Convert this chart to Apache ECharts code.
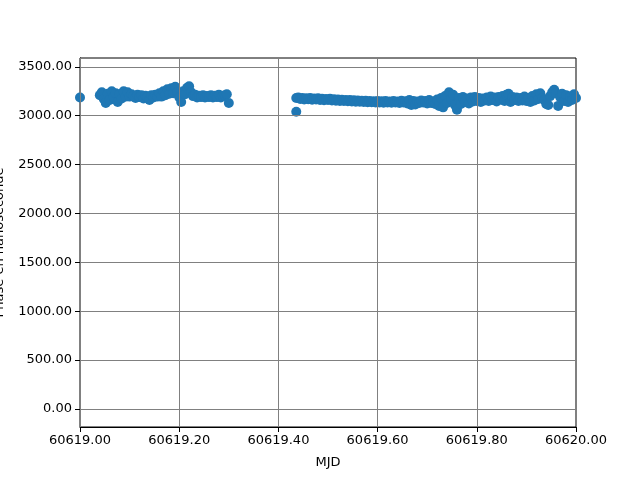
<!DOCTYPE html>
<html>
<head>
<meta charset="utf-8">
<script src="https://cdn.jsdelivr.net/npm/echarts@6/dist/echarts.min.js"></script>
<style>html,body{margin:0;padding:0;background:#fff}#c{width:640px;height:480px}</style>
</head>
<body>
<div id="c"></div>
<script>
// MJD values (day) and phase values (ns)
var mjd = [
60619.000,
60619.040,60619.044,60619.048,60619.052,60619.056,60619.060,60619.064,60619.068,60619.072,60619.076,
60619.080,60619.084,60619.088,60619.092,60619.096,60619.100,60619.104,60619.108,60619.112,60619.116,
60619.120,60619.124,60619.128,60619.132,60619.136,60619.140,60619.144,60619.148,60619.152,60619.156,
60619.160,60619.164,60619.168,60619.172,60619.176,60619.180,60619.184,60619.188,60619.192,60619.196,
60619.200,60619.204,60619.208,60619.212,60619.216,60619.220,60619.224,60619.228,60619.232,60619.236,
60619.240,60619.244,60619.248,60619.252,60619.256,60619.260,60619.264,60619.268,60619.272,60619.276,
60619.280,60619.284,60619.288,60619.292,60619.296,60619.300,
60619.436,60619.436,60619.440,60619.444,60619.448,60619.452,60619.456,60619.460,60619.464,60619.468,60619.472,60619.476,
60619.480,60619.484,60619.488,60619.492,60619.496,60619.500,60619.504,60619.508,60619.512,60619.516,
60619.520,60619.524,60619.528,60619.532,60619.536,60619.540,60619.544,60619.548,60619.552,60619.556,
60619.560,60619.564,60619.568,60619.572,60619.576,60619.580,60619.584,60619.588,60619.592,60619.596,
60619.600,60619.604,60619.608,60619.612,60619.616,60619.620,60619.624,60619.628,60619.632,60619.636,
60619.640,60619.644,60619.648,60619.652,60619.656,60619.660,60619.664,60619.668,60619.672,60619.676,
60619.680,60619.684,60619.688,60619.692,60619.696,60619.700,60619.704,60619.708,60619.712,60619.716,
60619.720,60619.724,60619.728,60619.732,60619.736,60619.740,60619.744,60619.748,60619.752,60619.756,
60619.760,60619.764,60619.768,60619.772,60619.776,60619.780,60619.784,60619.788,60619.792,60619.796,
60619.800,60619.804,60619.808,60619.812,60619.816,60619.820,60619.824,60619.828,60619.832,60619.836,
60619.840,60619.844,60619.848,60619.852,60619.856,60619.860,60619.864,60619.868,60619.872,60619.876,
60619.880,60619.884,60619.888,60619.892,60619.896,60619.900,60619.904,60619.908,60619.912,60619.916,
60619.920,60619.924,60619.928,60619.932,60619.936,60619.940,60619.944,60619.948,60619.952,60619.956,
60619.960,60619.964,60619.968,60619.972,60619.976,60619.980,60619.984,60619.988,60619.992,60619.996,
60620.000
];
var phase = [
3185,
3210,3240,3170,3130,3225,3160,3250,3190,3230,3140,
3220,3175,3250,3195,3240,3195,3220,3200,3180,3215,
3190,3210,3175,3205,3190,3160,3210,3185,3215,3195,
3230,3195,3250,3210,3270,3225,3280,3230,3295,3240,
3190,3140,3250,3220,3285,3300,3240,3200,3215,3185,
3205,3190,3210,3185,3200,3190,3210,3185,3205,3190,
3215,3185,3200,3210,3220,3130,
3180,3040,3185,3170,3180,3165,3178,3168,3180,3162,3175,3165,
3178,3160,3172,3158,3170,3160,3172,3155,3168,3152,
3165,3150,3163,3150,3160,3148,3160,3145,3158,3143,
3155,3142,3153,3140,3152,3138,3150,3137,3148,3135,
3150,3135,3148,3133,3150,3135,3146,3132,3150,3135,
3145,3130,3152,3136,3148,3125,3160,3110,3150,3115,
3145,3130,3155,3135,3150,3125,3160,3130,3145,3120,
3165,3100,3180,3085,3200,3130,3240,3170,3215,3110,
3060,3180,3120,3190,3140,3175,3125,3185,3145,3190,
3150,3180,3140,3175,3155,3185,3150,3195,3160,3185,
3145,3190,3165,3200,3150,3215,3225,3140,3190,3160,
3185,3150,3180,3155,3195,3150,3180,3140,3200,3155,
3220,3170,3230,3180,3160,3120,3110,3200,3240,3265,
3230,3100,3190,3225,3150,3210,3140,3195,3160,3220,
3180
];
var xTicks = [60619.0, 60619.2, 60619.4, 60619.6, 60619.8, 60620.0];
var yTicks = [0, 500, 1000, 1500, 2000, 2500, 3000, 3500];

var points = [];
for (var i = 0; i < mjd.length; i++) points.push([mjd[i], phase[i]]);

var font = 'DejaVu Sans';
var chart = echarts.init(document.getElementById('c'), null, {renderer: 'canvas'});
chart.setOption({
  animation: false,
  backgroundColor: '#fff',
  grid: {left: 80, right: 64, top: 58, bottom: 53, containLabel: false, outerBoundsMode: 'none',
    show: true, borderColor: '#000', borderWidth: 1, backgroundColor: 'transparent'},
  xAxis: {
    type: 'value', min: 60619, max: 60620,
    name: 'MJD', nameLocation: 'middle', nameGap: 29,
    nameTextStyle: {fontFamily: font, fontSize: 13, color: '#000'},
    axisLine: {show: true, onZero: false, lineStyle: {color: '#000', width: 1}},
    axisTick: {show: true, inside: false, length: 5, customValues: xTicks, lineStyle: {color: '#000'}},
    axisLabel: {customValues: xTicks, fontFamily: font, fontSize: 13, color: '#000', margin: 7,
      formatter: function (v) { return v.toFixed(2); }},
    splitLine: {show: false}
  },
  yAxis: {
    type: 'value', min: -185, max: 3590,
    name: 'Phase en nanoseconde', nameLocation: 'middle', nameGap: 74, nameRotate: 90,
    nameTextStyle: {fontFamily: font, fontSize: 13, color: '#000'},
    axisLine: {show: true, onZero: false, lineStyle: {color: '#000', width: 1}},
    axisTick: {show: true, inside: false, length: 5, customValues: yTicks, lineStyle: {color: '#000'}},
    axisLabel: {customValues: yTicks, fontFamily: font, fontSize: 13, color: '#000', margin: 8,
      formatter: function (v) { return v.toFixed(2); }},
    splitLine: {show: false}
  },
  series: [
    {
      type: 'line', data: [], silent: true,
      markLine: {
        silent: true, symbol: 'none', label: {show: false}, animation: false,
        lineStyle: {color: '#808080', width: 1, type: 'solid'},
        data: xTicks.map(function (t) { return {xAxis: t}; }).concat(yTicks.map(function (t) { return {yAxis: t}; }))
      }
    },
    {
      type: 'scatter', data: points, symbolSize: 10,
      itemStyle: {color: '#1f77b4', opacity: 1}
    }
  ]
});
</script>
</body>
</html>
